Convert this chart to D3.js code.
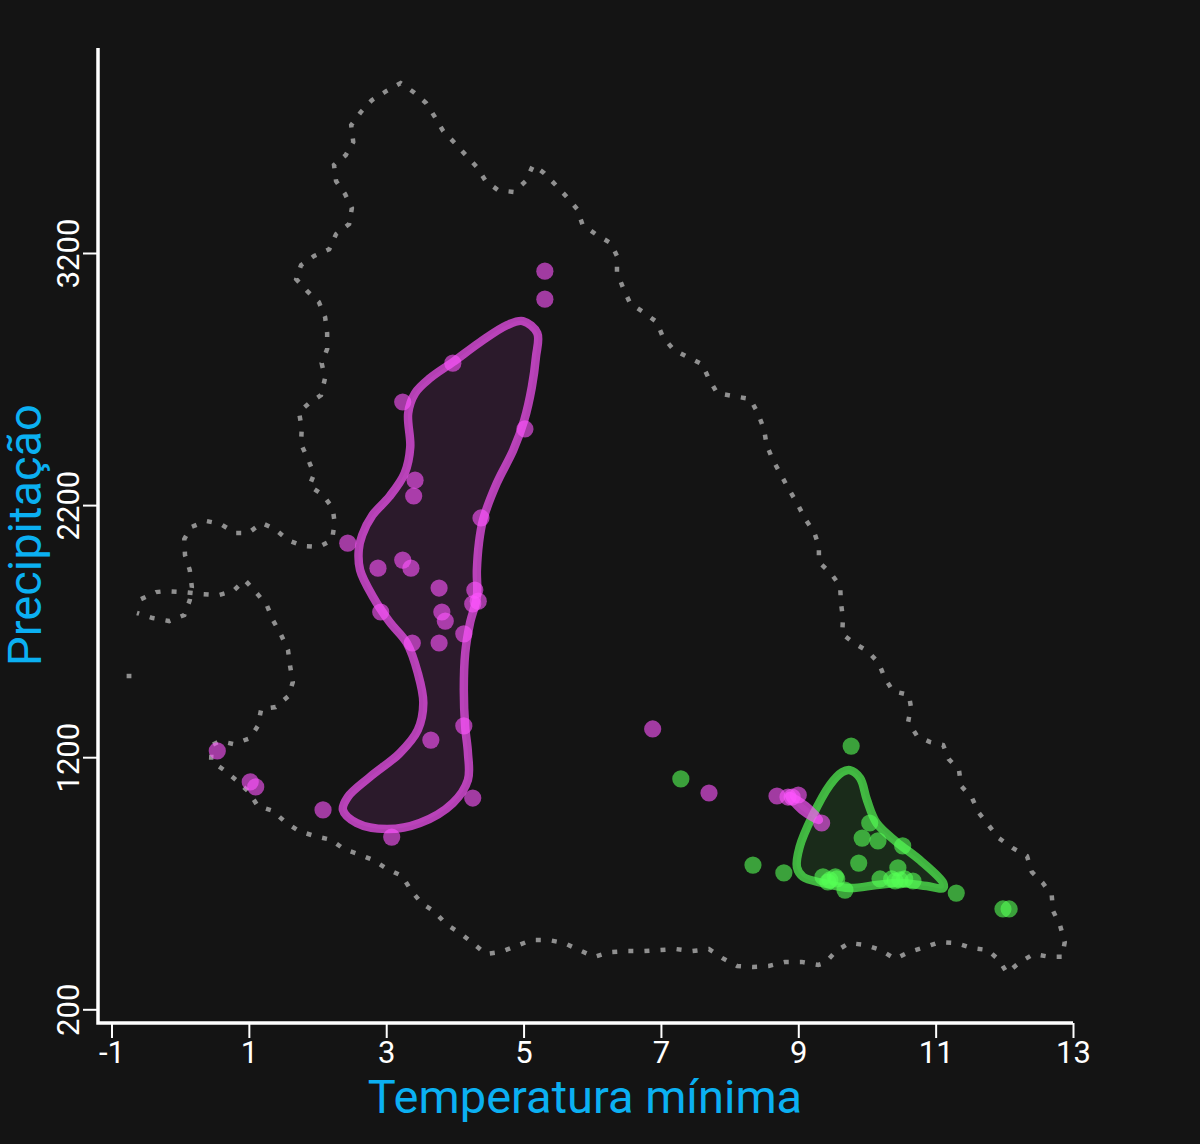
<!DOCTYPE html>
<html>
<head>
<meta charset="utf-8">
<title>Temperatura x Precipitação</title>
<script src="https://cdn.jsdelivr.net/npm/d3@7"></script>
<style>
    html, body { margin: 0; padding: 0; background: #141414; }
    svg { display: block; }
    text { font-family: Roboto, sans-serif; }
</style>
</head>
<body>
<script>
    var xTicks = [-1, 1, 3, 5, 7, 9, 11, 13],
        yTicks = [200, 1200, 2200, 3200];

    // [temperatura, precipitacao]
    var rangeContour = [
        [-0.57,1827],[-0.35,1855],[-0.21,1859],[0.04,1855],[0.32,1847],[0.56,1843],[0.77,1859],[0.94,1903],
        [1.10,1855],[1.26,1804],[1.35,1744],[1.47,1685],[1.57,1625],[1.60,1562],[1.64,1498],[1.58,1443],
        [1.39,1399],[1.18,1391],[1.13,1324],[1.02,1276],[0.78,1252],[0.58,1264],[0.46,1248],[0.45,1185],
        [0.64,1149],[0.83,1106],[1.00,1062],[1.13,1006],[1.35,987],[1.53,943],[1.73,907],[1.96,887],
        [2.20,872],[2.38,836],[2.59,816],[2.81,792],[3.01,757],[3.23,729],[3.36,673],[3.51,622],
        [3.71,586],[3.87,538],[4.07,503],[4.26,463],[4.45,419],[4.66,427],[4.89,451],[5.12,475],
        [5.36,475],[5.59,463],[5.81,435],[6.03,408],[6.26,427],[6.50,431],[6.74,431],[6.99,435],
        [7.22,439],[7.45,431],[7.70,439],[7.89,404],[8.11,372],[8.34,368],[8.57,372],[8.81,388],
        [9.05,388],[9.29,376],[9.39,384],[9.55,431],[9.74,463],[9.98,455],[10.20,435],[10.41,400],
        [10.61,427],[10.85,447],[11.06,467],[11.30,463],[11.53,443],[11.76,435],[11.92,396],[12.04,344],
        [12.23,388],[12.43,419],[12.66,408],[12.84,408],[12.88,467],[12.81,534],[12.71,590],[12.69,653],
        [12.56,701],[12.40,745],[12.33,808],[12.12,840],[11.92,879],[11.78,927],[11.63,979],[11.53,1038],
        [11.37,1086],[11.34,1149],[11.19,1193],[11.11,1248],[10.92,1260],[10.73,1284],[10.60,1340],[10.64,1399],
        [10.61,1447],[10.38,1462],[10.26,1514],[10.17,1574],[10.01,1621],[9.81,1653],[9.64,1689],[9.65,1752],
        [9.62,1815],[9.61,1879],[9.48,1927],[9.30,1974],[9.30,2038],[9.23,2093],[9.10,2145],[8.99,2204],
        [8.86,2264],[8.75,2319],[8.63,2379],[8.54,2438],[8.50,2502],[8.41,2565],[8.30,2621],[8.06,2632],
        [7.82,2644],[7.70,2700],[7.60,2759],[7.39,2787],[7.19,2815],[7.03,2866],[6.94,2926],[6.74,2966],
        [6.55,3001],[6.45,3061],[6.36,3124],[6.36,3188],[6.27,3239],[6.05,3275],[5.86,3311],[5.78,3374],
        [5.63,3422],[5.47,3469],[5.30,3517],[5.14,3549],[5.03,3485],[4.86,3442],[4.63,3449],[4.45,3485],
        [4.32,3541],[4.16,3588],[4.00,3636],[3.83,3683],[3.71,3739],[3.58,3795],[3.40,3838],[3.21,3874],
        [3.00,3842],[2.79,3806],[2.63,3759],[2.49,3707],[2.52,3640],[2.41,3588],[2.24,3549],[2.27,3485],
        [2.40,3434],[2.50,3378],[2.46,3315],[2.27,3275],[2.17,3215],[1.95,3188],[1.76,3152],[1.69,3096],
        [1.85,3049],[2.02,3005],[2.11,2946],[2.14,2882],[2.14,2819],[2.06,2763],[2.11,2704],[2.05,2636],
        [1.88,2605],[1.73,2569],[1.77,2506],[1.76,2442],[1.86,2383],[1.95,2323],[1.88,2276],[2.08,2240],
        [2.22,2188],[2.25,2129],[2.21,2061],[2.02,2034],[1.79,2038],[1.57,2061],[1.38,2105],[1.19,2129],
        [0.99,2089],[0.80,2089],[0.59,2125],[0.38,2137],[0.16,2113],[0.06,2065],[0.07,2002],[0.14,1942],
        [0.17,1875],[0.14,1823],[0.06,1764],[-0.16,1740],[-0.40,1752],[-0.63,1772]
    ];
    var rangeStray = [[-0.78,1522],[-0.71,1522]];

    var purpleContour = [
        [4.99,2930],[5.20,2882],[5.18,2787],[5.12,2668],[5.01,2537],[4.85,2418],[4.61,2287],[4.41,2141],
        [4.35,2049],[4.32,1942],[4.32,1835],[4.22,1732],[4.15,1613],[4.13,1466],[4.15,1320],[4.19,1217],
        [4.19,1110],[3.97,1018],[3.49,939],[3.01,915],[2.57,939],[2.37,991],[2.44,1042],[2.76,1121],
        [3.20,1217],[3.46,1308],[3.54,1415],[3.46,1534],[3.30,1653],[3.05,1736],[2.81,1835],[2.62,1942],
        [2.60,2022],[2.65,2081],[2.80,2160],[3.05,2235],[3.27,2327],[3.35,2430],[3.32,2565],[3.42,2644],[3.64,2704],
        [3.97,2767],[4.37,2847],[4.76,2914]
    ];
    var purpleSliver = [[8.87,1046],[9.11,1006],[9.30,951],[9.05,991]];

    var greenContour = [
        [9.75,1149],[9.90,1117],[10.00,1030],[10.14,939],[10.43,864],[10.77,792],[11.11,701],[11.11,681],
        [10.87,689],[10.48,701],[10.14,693],[9.75,681],[9.36,701],[9.07,725],[8.98,764],[9.02,844],
        [9.20,963],[9.46,1090],[9.64,1141]
    ];

    var purplePoints = [
        [5.31,3128],[5.31,3017],[3.97,2763],[3.24,2609],[5.02,2502],[3.42,2299],[3.40,2236],[4.38,2149],
        [2.44,2049],[3.24,1982],[3.36,1950],[2.88,1950],[3.77,1871],[4.29,1863],[4.34,1819],[4.26,1808],
        [3.81,1776],[3.86,1740],[2.92,1776],[4.13,1689],[3.77,1653],[3.38,1653],[4.13,1324],[3.65,1268],
        [0.54,1225],[1.02,1102],[1.10,1082],[4.26,1038],[2.08,991],[3.08,883],[6.88,1312],[7.70,1058],
        [8.69,1046],[8.85,1042],[8.91,1042],[9.00,1050],[9.34,939]
    ];
    var greenPoints = [
        [9.77,1244],[8.34,772],[8.79,741],[10.04,939],[9.93,879],[10.16,868],[10.52,848],[9.88,780],
        [10.45,761],[10.19,717],[9.36,725],[9.54,725],[9.43,705],[9.56,717],[9.68,673],[10.41,709],
        [10.48,713],[10.55,717],[10.67,709],[10.36,717],[9.46,713],[11.30,661],[11.98,598],[12.07,598],
        [7.29,1114]
    ];

    var width = 1200,
        height = 1144,
        axisLeftX = 98,
        axisBottomY = 1023,
        axisTopY = 48,
        purple = '#ff55ff',
        green = '#55ff55',
        blue = '#0bb0f2';

    var x = d3.scaleLinear().domain([-1, 13]).range([111.5, 1073]),
        y = d3.scaleLinear().domain([200, 3200]).range([1009.3, 253]);

    var svg = d3.select('body').append('svg')
        .attr('width', width)
        .attr('height', height)
        .style('background', '#141414');

    var openLine = d3.line().x(function (d) { return x(d[0]); }).y(function (d) { return y(d[1]); }),
        closedLine = d3.line().x(function (d) { return x(d[0]); }).y(function (d) { return y(d[1]); })
            .curve(d3.curveCatmullRomClosed.alpha(0.5));

    // dotted outer range
    [rangeContour, rangeStray].forEach(function (c) {
        svg.append('path')
            .attr('d', openLine(c))
            .attr('fill', 'none')
            .attr('stroke', '#909090')
            .attr('stroke-width', 4.5)
            .attr('stroke-dasharray', '5 11.1');
    });

    function contour(data, colour, fillOpacity) {
        svg.append('path')
            .attr('d', closedLine(data))
            .attr('fill', colour)
            .attr('fill-opacity', fillOpacity)
            .attr('stroke', colour)
            .attr('stroke-opacity', 0.68)
            .attr('stroke-width', 8.5)
            .attr('stroke-linejoin', 'round');
    }

    function points(data, colour) {
        svg.append('g').selectAll('circle')
            .data(data)
            .enter().append('circle')
            .attr('cx', function (d) { return x(d[0]); })
            .attr('cy', function (d) { return y(d[1]); })
            .attr('r', 8.6)
            .attr('fill', colour)
            .attr('fill-opacity', 0.6);
    }

    contour(greenContour, green, 0.1);
    points(greenPoints, green);
    contour(purpleContour, purple, 0.1);
    contour(purpleSliver, purple, 0.1);
    points(purplePoints, purple);

    // axes
    var xAxis = d3.axisBottom(x).tickValues(xTicks).tickSize(15).tickSizeOuter(0).tickFormat(d3.format('d')),
        yAxis = d3.axisLeft(y).tickValues(yTicks).tickSize(15).tickSizeOuter(0).tickFormat(d3.format('d'));

    var gx = svg.append('g').attr('transform', 'translate(0,' + axisBottomY + ')').call(xAxis),
        gy = svg.append('g').attr('transform', 'translate(' + axisLeftX + ',0)').call(yAxis);

    gx.select('.domain').remove();
    gy.select('.domain').remove();

    gx.selectAll('.tick line').attr('stroke', '#fff').attr('stroke-width', 2);
    gy.selectAll('.tick line').attr('stroke', '#fff').attr('stroke-width', 2);

    gx.selectAll('.tick text')
        .attr('y', 40).attr('dy', 0)
        .attr('fill', '#fff')
        .style('font-size', '31px')
        .text(function (d) { return d3.format('d')(d).replace('\u2212', '-'); });

    gy.selectAll('.tick text')
        .attr('x', 0).attr('y', -19).attr('dy', 0)
        .attr('transform', 'rotate(-90)')
        .attr('text-anchor', 'middle')
        .attr('fill', '#fff')
        .style('font-size', '31px');

    svg.append('path')
        .attr('d', 'M' + axisLeftX + ',' + axisTopY + 'V' + axisBottomY + 'H' + x(13))
        .attr('fill', 'none')
        .attr('stroke', '#fff')
        .attr('stroke-width', 3.5);

    svg.append('text')
        .attr('x', 585)
        .attr('y', 1113)
        .attr('text-anchor', 'middle')
        .attr('fill', blue)
        .style('font-size', '47px')
        .text('Temperatura mínima');

    svg.append('text')
        .attr('transform', 'translate(41,535) rotate(-90)')
        .attr('text-anchor', 'middle')
        .attr('fill', blue)
        .style('font-size', '47px')
        .text('Precipitação');
</script>
</body>
</html>
